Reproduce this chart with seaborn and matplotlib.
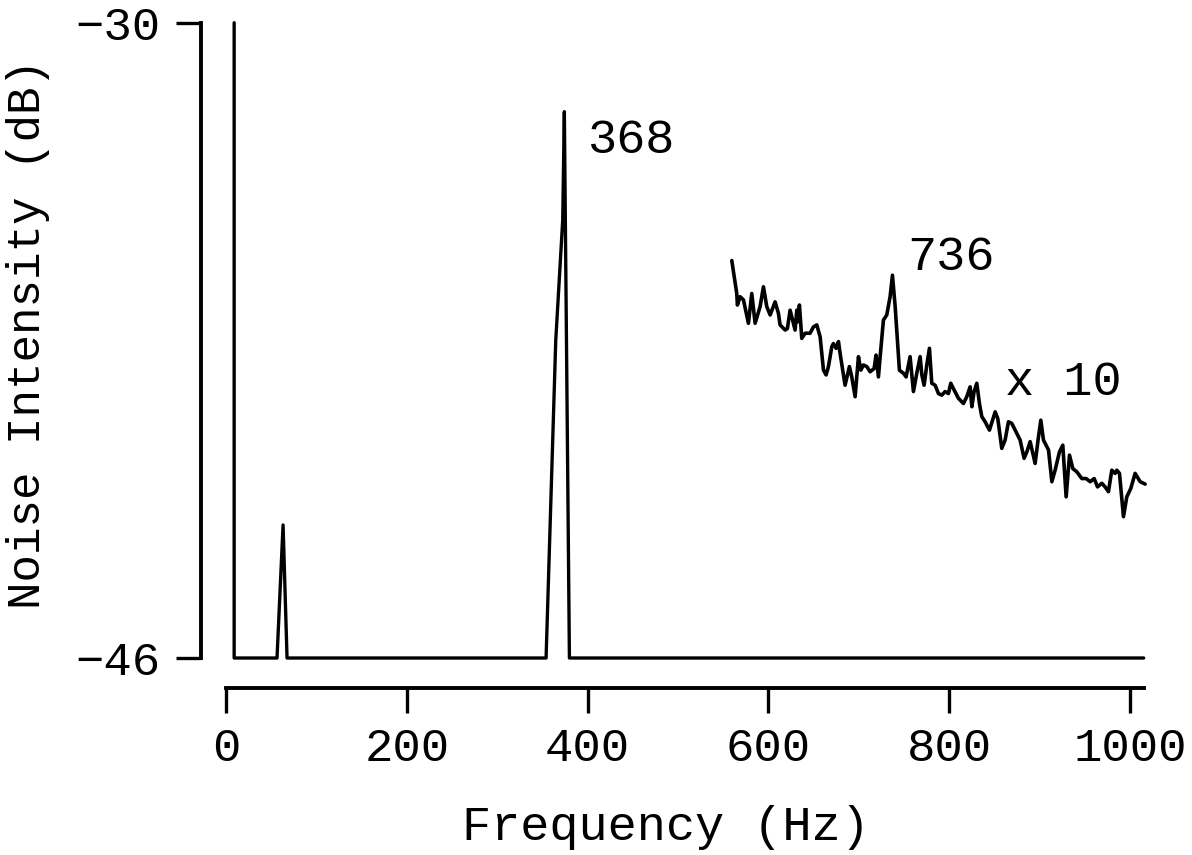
import matplotlib
matplotlib.use('Agg')
import matplotlib.pyplot as plt
import seaborn as sns

# full-scale spectrum
main_freq = [9, 9, 56.4, 63.1, 67.5, 354, 364.7, 372.4, 374.2, 379.8, 1015]
main_db = [-30, -46, -46, -42.65, -46, -46, -38.0, -34.97, -32.24, -46, -46]

# x10 expanded part of the spectrum
x10_freq = [559.4, 564.9, 565.6, 568.6, 572.3, 577.8, 581.5, 583.3, 585.2, 590.7,
            594.4, 598.1, 601.8, 607.3, 611.0, 612.8, 618.4, 620.9, 623.9, 627.6,
            629.4, 631.3, 632.4, 634.2, 636.8, 640.5, 646.0, 649.7, 653.4, 657.1,
            660.8, 663.7, 666.3, 670.0, 671.8, 674.8, 677.4, 679.2, 684.7, 689.5,
            692.1, 695.8, 699.5, 702.1, 705.0, 708.7, 712.4, 716.8, 719.0, 721.6,
            723.5, 727.1, 730.8, 734.5, 737.1, 740.1, 744.8, 749.3, 752.2, 756.6,
            760.3, 764.0, 767.7, 769.6, 772.1, 775.1, 778.0, 780.6, 784.3, 788.0,
            791.7, 795.3, 799.0, 801.6, 805.3, 810.1, 815.6, 819.3, 823.0, 824.9,
            827.4, 830.4, 833.3, 835.9, 839.6, 844.4, 850.7, 853.6, 858.0, 861.7,
            865.4, 869.1, 872.8, 878.3, 882.7, 885.7, 889.4, 894.9, 898.6, 901.2,
            904.1, 909.7, 913.4, 917.0, 921.8, 925.5, 929.2, 932.9, 936.6, 941.0,
            946.5, 951.3, 955.8, 960.2, 963.9, 968.7, 972.3, 976.0, 979.7, 983.4,
            985.2, 988.2, 992.6, 996.3, 1000.7, 1005.5, 1011.1, 1016.6]
x10_db = [-35.99, -36.82, -37.11, -36.90, -36.98, -37.57, -36.82, -37.19, -37.57, -37.15,
          -36.65, -37.15, -37.36, -37.03, -37.32, -37.61, -37.74, -37.70, -37.24, -37.57,
          -37.74, -37.24, -37.53, -37.11, -37.95, -37.82, -37.82, -37.66, -37.61, -37.91,
          -38.75, -38.87, -38.66, -38.16, -38.08, -38.20, -38.03, -38.33, -39.13, -38.66,
          -38.92, -39.42, -38.41, -38.75, -38.62, -38.66, -38.79, -38.71, -38.37, -38.92,
          -38.41, -37.49, -37.36, -36.90, -36.36, -37.15, -38.75, -38.83, -38.92, -38.41,
          -39.29, -38.83, -38.41, -38.87, -39.13, -38.62, -38.20, -39.08, -39.13, -39.34,
          -39.38, -39.29, -39.34, -39.08, -39.25, -39.46, -39.59, -39.42, -39.17, -39.67,
          -39.29, -39.08, -39.59, -39.92, -40.05, -40.26, -39.80, -39.97, -40.72, -40.51,
          -40.05, -40.09, -40.26, -40.51, -40.97, -40.81, -40.55, -41.10, -40.43, -40.01,
          -40.51, -40.76, -41.56, -41.27, -40.81, -40.64, -41.94, -40.89, -41.23, -41.31,
          -41.48, -41.48, -41.56, -41.48, -41.69, -41.60, -41.69, -41.81, -41.27, -41.35,
          -41.27, -41.35, -42.44, -41.94, -41.73, -41.35, -41.56, -41.62]

x_ticks = [0, 200, 400, 600, 800, 1000]
y_ticks = [-30, -46]

# annotations
note_text = ['368', '736', 'x 10']
note_freq = [400, 754, 862]
note_db = [-33.28, -36.23, -39.38]

sns.set_theme(style='ticks')
plt.rcParams['font.family'] = ['Liberation Mono', 'DejaVu Sans']

fig = plt.figure(figsize=(11.92, 8.55), dpi=100)
ax = fig.add_axes([0.1686, 0.2304, 0.7962, 0.743])

sns.lineplot(x=main_freq, y=main_db, sort=False, estimator=None, color='black',
             lw=2.4, clip_on=False, ax=ax)
sns.lineplot(x=x10_freq, y=x10_db, sort=False, estimator=None, color='black',
             lw=2.6, clip_on=False, ax=ax)

for t, f, d in zip(note_text, note_freq, note_db):
    ax.text(f, d, t, fontsize=35, ha='left', va='baseline', color='black')

ax.set_xlim(-27.7, 1022)
ax.set_ylim(-46, -30)
ax.set_xticks(x_ticks)
ax.set_yticks(y_ticks)

ax.spines['top'].set_visible(False)
ax.spines['right'].set_visible(False)
ax.spines['left'].set_bounds(-46, -30)
ax.spines['bottom'].set_bounds(0, 1015)
ax.spines['bottom'].set_position(('outward', 21.6))
for s in ['left', 'bottom']:
    ax.spines[s].set_linewidth(2.8)
    ax.spines[s].set_color('black')

ax.tick_params(axis='both', direction='out', length=18, width=2.4, colors='black',
               labelsize=34)
ax.tick_params(axis='x', pad=10)
ax.tick_params(axis='y', pad=11)

ax.set_xlabel('Frequency (Hz)', fontsize=35, color='black')
ax.set_ylabel('Noise Intensity (dB)', fontsize=33, color='black', va='center')
ax.xaxis.set_label_coords(0.49, -0.231)
ax.yaxis.set_label_coords(-0.182, 0.51)

fig.savefig('out.png', dpi=100)
